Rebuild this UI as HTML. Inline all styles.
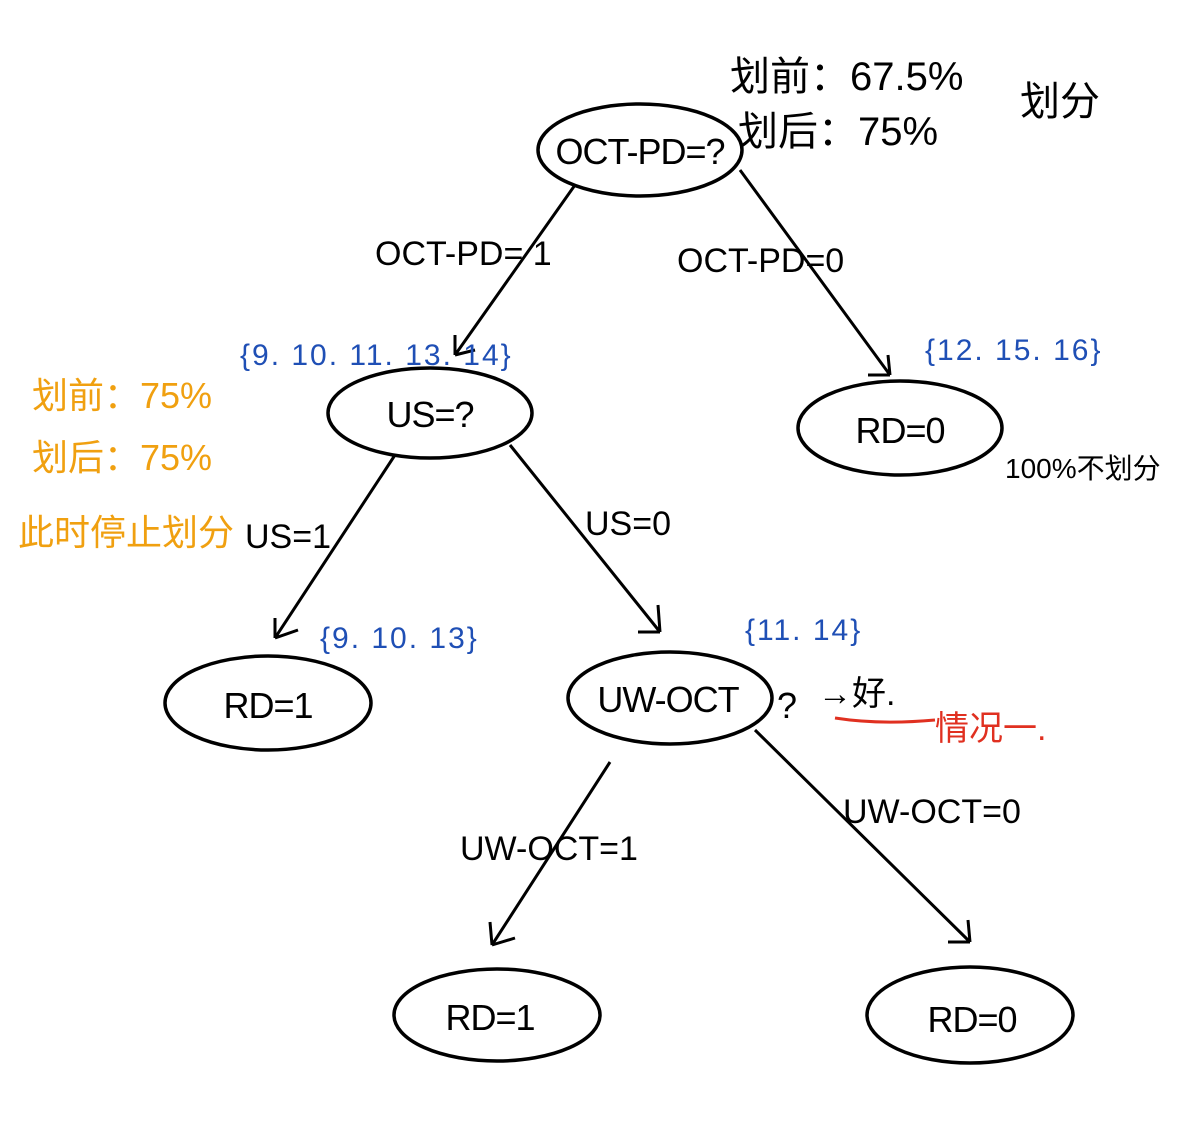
<!DOCTYPE html>
<html><head><meta charset="utf-8"><style>
html,body{margin:0;padding:0;background:#fff;}
svg{display:block;}
text{font-family:"Liberation Sans","Noto Sans CJK SC",sans-serif;}
.n{fill:none;stroke:#000;stroke-width:3.5;}
.l{stroke:#000;stroke-width:3;fill:none;}
.t{font-size:36px;fill:#000;letter-spacing:-1px;}
.e{font-size:34px;fill:#000;}
.b{font-size:30px;fill:#1f4fb5;letter-spacing:2px;}
.o{font-size:36px;fill:#f0a010;}
</style></head><body>
<svg width="1184" height="1128" viewBox="0 0 1184 1128">
<g>
<path class="l" d="M575 185 L455 355 M455 355 L455 335 M455 355 L475 350"/>
<path class="l" d="M740 170 L890 375 M890 375 L868 375 M890 375 L888 355"/>
<path class="l" d="M395 455 L275 638 M275 638 L275 618 M275 638 L298 630"/>
<path class="l" d="M510 445 L660 632 M660 632 L638 632 M660 632 L658 605"/>
<path class="l" d="M610 762 L492 945 M492 945 L490 922 M492 945 L515 938"/>
<path class="l" d="M755 730 L970 942 M970 942 L948 942 M970 942 L968 920"/>
</g>
<g>
<ellipse class="n" cx="640" cy="150" rx="102" ry="46"/>
<text class="t" x="640" y="164" text-anchor="middle">OCT-PD=?</text>
<ellipse class="n" cx="430" cy="413" rx="102" ry="45"/>
<text class="t" x="430" y="427" text-anchor="middle">US=?</text>
<ellipse class="n" cx="900" cy="428" rx="102" ry="47"/>
<text class="t" x="900" y="443" text-anchor="middle">RD=0</text>
<ellipse class="n" cx="268" cy="703" rx="103" ry="47"/>
<text class="t" x="268" y="718" text-anchor="middle">RD=1</text>
<ellipse class="n" cx="670" cy="698" rx="102" ry="46"/>
<text class="t" x="668" y="712" text-anchor="middle">UW-OCT</text>
<ellipse class="n" cx="497" cy="1015" rx="103" ry="46"/>
<text class="t" x="490" y="1030" text-anchor="middle">RD=1</text>
<ellipse class="n" cx="970" cy="1015" rx="103" ry="48"/>
<text class="t" x="972" y="1032" text-anchor="middle">RD=0</text>
</g>
<g>
<text class="e" x="375" y="265">OCT-PD= 1</text>
<text class="e" x="677" y="272">OCT-PD=0</text>
<text class="e" x="245" y="548">US=1</text>
<text class="e" x="585" y="535">US=0</text>
<text class="e" x="460" y="860">UW-OCT=1</text>
<text class="e" x="843" y="823">UW-OCT=0</text>
<text class="t" x="777" y="718">?</text>
</g>
<g>
<text class="b" x="240" y="365">{9. 10. 11. 13.  14}</text>
<text class="b" x="925" y="360">{12. 15. 16}</text>
<text class="b" x="320" y="648">{9. 10. 13}</text>
<text class="b" x="745" y="640">{11. 14}</text>
</g>
<g>
<text x="730" y="90" font-size="40">划前：67.5%</text>
<text x="738" y="145" font-size="40">划后：75%</text>
<text x="1020" y="115" font-size="40">划分</text>
<text x="1005" y="478" font-size="28">100%不划分</text>
<text class="o" x="32" y="408">划前：75%</text>
<text class="o" x="32" y="470">划后：75%</text>
<text x="18" y="545" font-size="36" fill="#f0a010">此时停止划分</text>
<text x="818" y="705" font-size="34">→好.</text>
<path d="M835 718 Q880 725 935 720" stroke="#e03020" stroke-width="3" fill="none"/>
<text x="935" y="740" font-size="34" fill="#e03020">情况一.</text>
</g>
</svg>
</body></html>
